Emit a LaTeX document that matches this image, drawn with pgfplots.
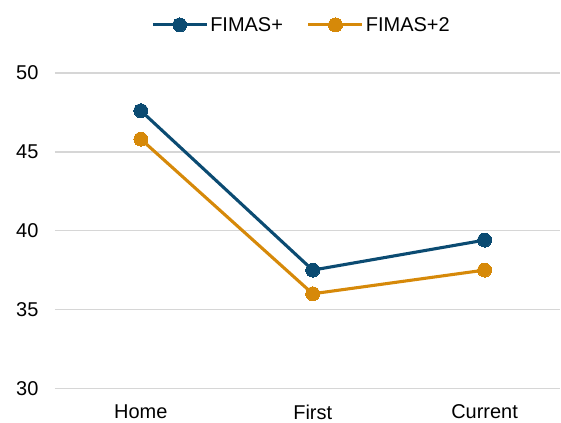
\documentclass[border=0pt]{standalone}
\usepackage{pgfplots}
\pgfplotsset{compat=1.18}
\usepackage{fontspec}
\setmainfont{Liberation Sans}
\definecolor{cblue}{HTML}{0B4B72}
\definecolor{corange}{HTML}{D68909}
\definecolor{cgrid}{HTML}{D6D6D6}
\begin{document}
\begin{tikzpicture}
\begin{axis}[
  scale only axis, width=506pt, height=316pt,
  xmin=-0.5, xmax=2.44, ymin=30, ymax=50,
  axis line style={draw=none},
  ytick={30,35,40,45,50},
  xtick={0,1,2}, xticklabels={Home,First,Current},
  major tick length=0pt,
  ymajorgrids, grid style={cgrid, line width=1.6pt},
  tick label style={font=\fontsize{20}{24}\selectfont, text=black},
  /pgf/number format/assume math mode=true,
  yticklabel style={xshift=-13pt},
  xticklabel style={yshift=-13pt},
  clip=false,
  legend style={at={(0.488,1.152)}, anchor=center, draw=none, fill=none,
    legend columns=2, font=\fontsize{20}{24}\selectfont,
    /tikz/every even column/.append style={column sep=22pt}},
  legend cell align=left,
  legend image code/.code={\draw[mark repeat=2,mark phase=2] plot coordinates {(0pt,0pt)(27pt,0pt)(54pt,0pt)};},
]
\path (rel axis cs:-0.1087,-0.1013) rectangle (rel axis cs:1,1.231);
\addplot[cblue, line width=3.1pt, mark=*, mark size=7pt, mark options={solid, line width=0pt}] coordinates {(0,47.6) (1,37.5) (2,39.4)};
\addlegendentry{FIMAS+}
\addplot[corange, line width=3.1pt, mark=*, mark size=7pt, mark options={solid, line width=0pt}] coordinates {(0,45.8) (1,36.0) (2,37.5)};
\addlegendentry{FIMAS+2}
\end{axis}
\end{tikzpicture}
\end{document}
